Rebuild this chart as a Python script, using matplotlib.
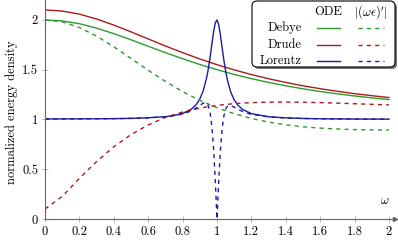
import matplotlib
matplotlib.use("Agg")
import matplotlib.pyplot as plt
from matplotlib.patches import FancyBboxPatch

plt.rcParams["font.family"] = "cmr10"
plt.rcParams["mathtext.fontset"] = "cm"
plt.rcParams["axes.formatter.use_mathtext"] = True

# smooth curves, read on a 0.1 grid
w = [0.0, 0.1, 0.2, 0.3, 0.4, 0.5, 0.6, 0.7, 0.8, 0.9, 1.0,
     1.1, 1.2, 1.3, 1.4, 1.5, 1.6, 1.7, 1.8, 1.9, 2.0]
debye_ode = [2.000, 1.990, 1.962, 1.917, 1.862, 1.800, 1.735, 1.671, 1.610, 1.552, 1.500,
             1.452, 1.410, 1.372, 1.338, 1.308, 1.281, 1.257, 1.236, 1.217, 1.200]
debye_der = [2.000, 1.980, 1.924, 1.837, 1.730, 1.613, 1.494, 1.382, 1.280, 1.192, 1.118,
             1.058, 1.010, 0.973, 0.946, 0.926, 0.913, 0.904, 0.898, 0.895, 0.894]
drude_ode = [2.100, 2.089, 2.058, 2.009, 1.948, 1.880, 1.809, 1.738, 1.671, 1.608, 1.550,
             1.498, 1.451, 1.409, 1.372, 1.338, 1.309, 1.283, 1.259, 1.239, 1.220]
drude_der = [0.100, 0.226, 0.408, 0.577, 0.725, 0.848, 0.945, 1.020, 1.075, 1.114, 1.141,
             1.159, 1.169, 1.174, 1.175, 1.173, 1.169, 1.164, 1.158, 1.152, 1.146]

# Lorentz resonance near 1 needs a denser grid
wl = [0.0, 0.2, 0.4, 0.5, 0.6, 0.7, 0.75, 0.8, 0.85, 0.88, 0.9, 0.92, 0.94, 0.95,
      0.96, 0.97, 0.98, 0.99, 1.0, 1.01, 1.02, 1.03, 1.04, 1.05, 1.06, 1.08, 1.1,
      1.12, 1.15, 1.2, 1.3, 1.4, 1.5, 1.6, 1.8, 2.0]
lorentz_ode = [1.005, 1.006, 1.008, 1.011, 1.017, 1.028, 1.040, 1.060, 1.102, 1.151,
               1.205, 1.288, 1.421, 1.513, 1.626, 1.752, 1.877, 1.971, 2.000, 1.952,
               1.848, 1.719, 1.595, 1.488, 1.400, 1.274, 1.197, 1.146, 1.099, 1.059,
               1.027, 1.016, 1.010, 1.007, 1.004, 1.003]
lorentz_der = [1.005, 1.006, 1.008, 1.011, 1.016, 1.027, 1.038, 1.055, 1.086, 1.116,
               1.141, 1.164, 1.164, 1.136, 1.068, 0.936, 0.712, 0.390, 0.000, 0.384,
               0.695, 0.908, 1.035, 1.102, 1.132, 1.140, 1.124, 1.104, 1.079, 1.051,
               1.026, 1.015, 1.010, 1.007, 1.004, 1.003]

c_debye = "#2e9a2e"
c_drude = "#a81c1c"
c_lorentz = "#1c1ca0"
axis_grey = "#666666"
dash = (0, (3, 3))

fig = plt.figure(figsize=(3.98, 2.41), dpi=100)
ax = fig.add_axes([45 / 398, 22 / 241, 350 / 398, 219 / 241])

ax.plot(w, debye_ode, color=c_debye, lw=1.0)
ax.plot(w, drude_ode, color=c_drude, lw=1.0)
ax.plot(wl, lorentz_ode, color=c_lorentz, lw=1.0)
ax.plot(w, debye_der, color=c_debye, lw=1.0, ls=dash)
ax.plot(w, drude_der, color=c_drude, lw=1.0, ls=dash)
ax.plot(wl, lorentz_der, color=c_lorentz, lw=1.0, ls=dash)

ax.set_xlim(0, 2.035)
ax.set_ylim(0, 2.2)
for s in ["top", "right"]:
    ax.spines[s].set_visible(False)
for s in ["left", "bottom"]:
    ax.spines[s].set_color(axis_grey)
    ax.spines[s].set_linewidth(0.8)
ax.plot(1, 0, ">", transform=ax.transAxes, clip_on=False, color=axis_grey, ms=3)

xt = [0, 0.2, 0.4, 0.6, 0.8, 1, 1.2, 1.4, 1.6, 1.8, 2]
ax.set_xticks(xt)
ax.set_xticklabels(["0", "0.2", "0.4", "0.6", "0.8", "1", "1.2", "1.4", "1.6", "1.8", "2"])
yt = [0, 0.5, 1, 1.5, 2]
ax.set_yticks(yt)
ax.set_yticklabels(["0", "0.5", "1", "1.5", "2"])
ax.tick_params(direction="inout", length=4, width=0.6, color="#aaaaaa",
               labelsize=9, pad=3)

ax.text(1.975, 0.12, r"$\omega$", fontsize=9, ha="center", va="bottom")
fig.text(12 / 398, 0.535, "normalized energy density", rotation=90,
         ha="center", va="center", fontsize=9)

# legend drawn by hand (pgfplots style table with header)
lg = fig.add_axes([0, 0, 1, 1], facecolor="none")
lg.set_xlim(0, 398)
lg.set_ylim(241, 0)
lg.axis("off")
shadow = FancyBboxPatch((254, 3), 143, 66, boxstyle="round,pad=0,rounding_size=5",
                        fc="#555555", ec="none", alpha=0.8)
box = FancyBboxPatch((252, 1), 143, 66, boxstyle="round,pad=0,rounding_size=5",
                     fc="white", ec="black", lw=0.8)
lg.add_patch(shadow)
lg.add_patch(box)
lg.text(328, 12, "ODE", ha="center", va="center", fontsize=9)
lg.text(371, 12, r"$|(\omega\epsilon)'|$", ha="center", va="center", fontsize=9)
rows = [("Debye", c_debye, 28), ("Drude", c_drude, 45), ("Lorentz", c_lorentz, 61)]
for name, col, yy in rows:
    lg.text(302, yy, name, ha="right", va="center", fontsize=9)
    lg.plot([317, 340], [yy, yy], color=col, lw=1.0)
    lg.plot([358, 384], [yy, yy], color=col, lw=1.0, ls=dash)

fig.savefig("out.png", dpi=100)
